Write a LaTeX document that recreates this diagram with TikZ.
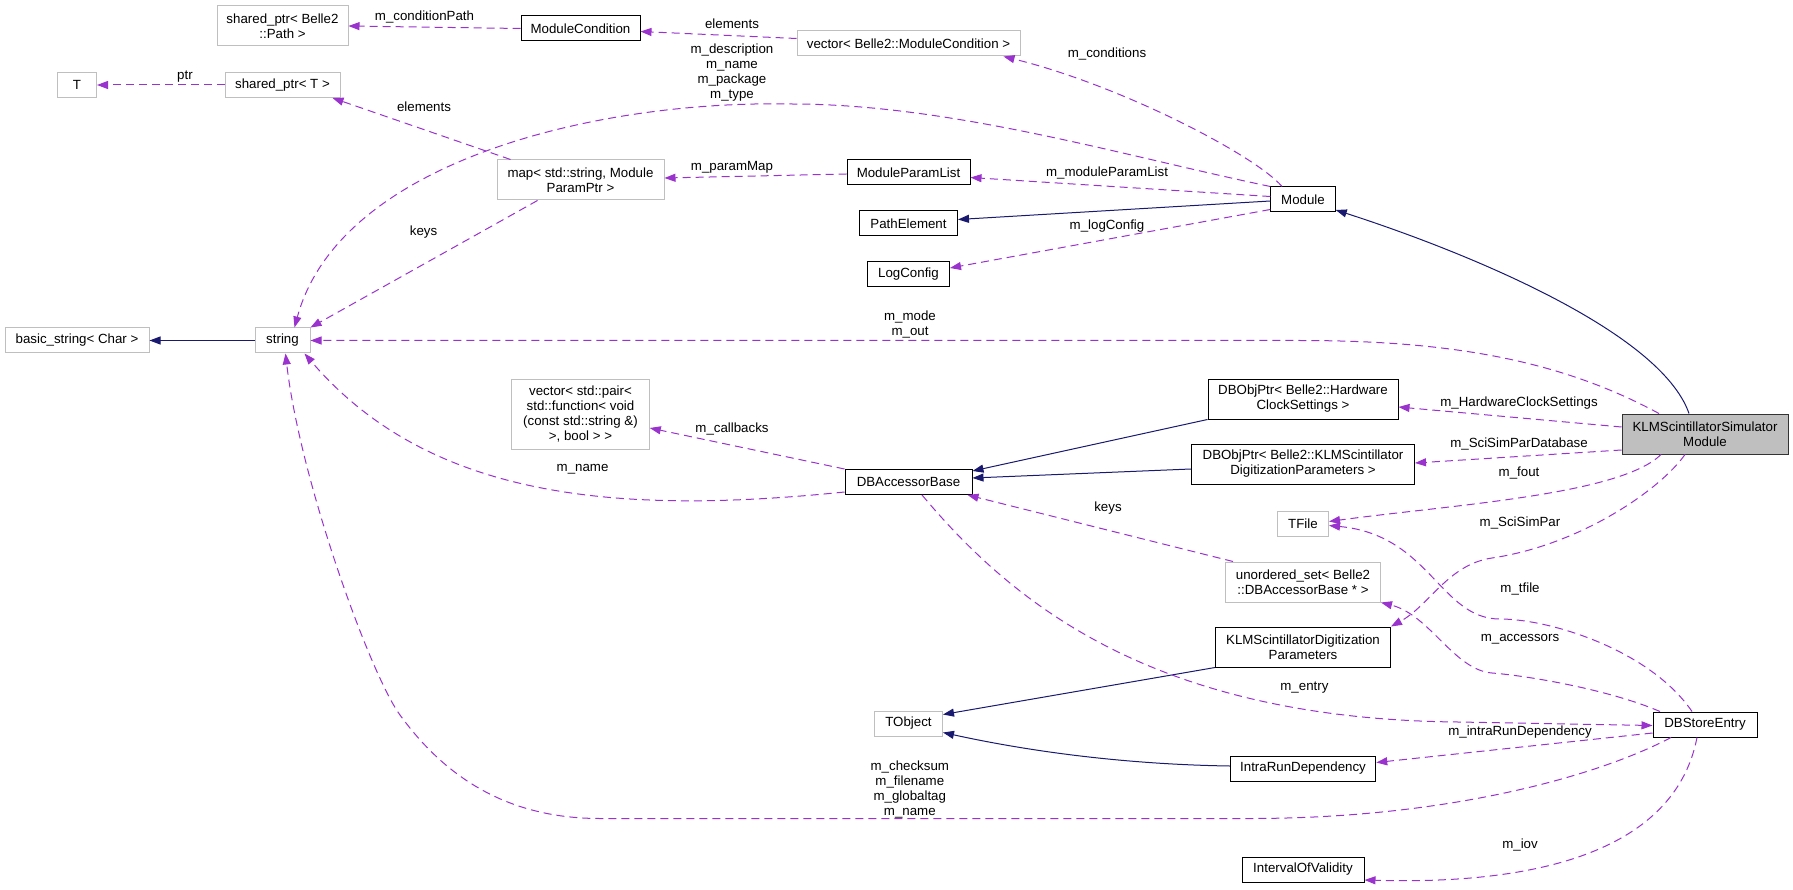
\documentclass[tikz,border=0pt]{standalone}
\usepackage{fontspec}
\setmainfont{Liberation Sans}
\usetikzlibrary{arrows.meta}
\definecolor{memcol}{HTML}{9A32CD}
\definecolor{basecol}{HTML}{191970}
\definecolor{grey75}{HTML}{BFBFBF}

\begin{document}
\begin{tikzpicture}[x=1pt, y=-1pt,
  every node/.style={font=\fontsize{13.3}{15}\selectfont, inner sep=0pt, align=center},
  cls/.style={draw=black, line width=1pt, minimum height=25pt},
  ext/.style={draw=grey75, line width=1pt, minimum height=25pt},
  rootcls/.style={draw=black!80, fill=grey75, line width=1pt, minimum height=40pt},
  memberedge/.style={draw=memcol, line width=1pt, dash pattern=on 8pt off 5pt, -{Triangle[length=11pt,width=8pt]}},
  baseedge/.style={draw=basecol, line width=1pt, -{Triangle[length=11pt,width=8pt]}}
]
\useasboundingbox (0,0) rectangle (1793,890);

\node[ext, minimum width=131pt, minimum height=40pt] (pathsp) at (282.5,26) {shared\_ptr< Belle2\\::Path >};
\node[ext, minimum width=39pt] (tnode) at (77,85) {T};
\node[ext, minimum width=115pt] (sharedt) at (282.5,85) {shared\_ptr< T >};
\node[cls, minimum width=119pt] (cond) at (580.5,28.5) {ModuleCondition};
\node[ext, minimum width=167pt, minimum height=40pt] (parammap) at (580.5,180) {map< std::string, Module\\ParamPtr >};
\node[ext, minimum width=223pt] (condvec) at (908.5,43.5) {vector< Belle2::ModuleCondition >};
\node[cls, minimum width=123pt] (paramlist) at (908.5,172.5) {ModuleParamList};
\node[cls, minimum width=98pt] (pathelem) at (908.5,223.5) {PathElement};
\node[cls, minimum width=82pt] (logcfg) at (908.5,274) {LogConfig};
\node[cls, minimum width=64.5pt] (module) at (1303,199.5) {Module};
\node[ext, minimum width=144pt] (basicstr) at (77,340.5) {basic\_string< Char >};
\node[ext, minimum width=55pt] (string) at (282.5,340.5) {string};
\node[ext, minimum width=137.5pt, minimum height=70pt] (callbacks) at (580.5,414) {vector< std::pair<\\std::function< void\\(const std::string \&)\\>, bool > >};
\node[cls, minimum width=190pt, minimum height=40pt] (hwclock) at (1303,399) {DBObjPtr< Belle2::Hardware\\ClockSettings >};
\node[rootcls, minimum width=166pt] (klmsim) at (1705,434) {KLMScintillatorSimulator\\Module};
\node[cls, minimum width=223pt, minimum height=40pt] (digiptr) at (1303,464) {DBObjPtr< Belle2::KLMScintillator\\DigitizationParameters >};
\node[cls, minimum width=127pt] (accessor) at (908.5,482) {DBAccessorBase};
\node[ext, minimum width=51pt] (tfile) at (1303,523.5) {TFile};
\node[ext, minimum width=155pt, minimum height=40pt] (uset) at (1303,582) {unordered\_set< Belle2\\::DBAccessorBase * >};
\node[cls, minimum width=175pt, minimum height=40pt] (klmdigi) at (1303,647) {KLMScintillatorDigitization\\Parameters};
\node[ext, minimum width=68pt] (tobject) at (908.5,723.5) {TObject};
\node[cls, minimum width=145.5pt] (intrarun) at (1303,768.5) {IntraRunDependency};
\node[cls, minimum width=104pt] (storeentry) at (1705,724.5) {DBStoreEntry};
\node[cls, minimum width=122pt] (iov) at (1303,869.5) {IntervalOfValidity};

\draw[memberedge] (cond.west) -- (pathsp.east);
\draw[memberedge] ([yshift=5pt]condvec.west) -- ([yshift=-3pt]cond.east);
\draw[memberedge] ([xshift=-21pt]module.north) .. controls (1255,155) and (1120,85) .. ([xshift=95pt]condvec.south);
\draw[memberedge] (sharedt.west) -- (tnode.east);
\draw[memberedge] ([xshift=14pt]parammap.north west) -- ([xshift=-8pt]sharedt.south east);
\draw[memberedge] (module.north west) .. controls (1120,155) and (950,104) .. (791,104) .. controls (600,100) and (340,160) .. ([xshift=12pt]string.north);
\draw[memberedge] ([xshift=-43pt]parammap.south) -- (string.north east);
\draw[memberedge] ([yshift=-1.5pt]paramlist.west) -- ([yshift=2pt]parammap.east);
\draw[memberedge] ([yshift=3pt]module.west) -- ([yshift=-5pt]paramlist.east);
\draw[baseedge] ([yshift=-1.5pt]module.west) -- ([yshift=4pt]pathelem.east);
\draw[memberedge] ([yshift=-10pt]module.west) -- ([yshift=6pt]logcfg.east);
\draw[baseedge] ([xshift=-16pt]klmsim.north) .. controls (1660,330) and (1460,250) .. ([yshift=2.5pt]module.south east);
\draw[baseedge] (string.west) -- (basicstr.east);
\draw[memberedge] ([xshift=-46pt]klmsim.north) .. controls (1560,360) and (1450,340.5) .. (1300,340.5) -- (string.east);
\draw[memberedge] (accessor.north west) -- ([yshift=-14pt]callbacks.east);
\draw[memberedge] ([yshift=-10pt]accessor.west) .. controls (620,515) and (430,500) .. ([xshift=-6pt]string.south east);
\draw[baseedge] (hwclock.south west) -- ([yshift=11pt]accessor.east);
\draw[baseedge] ([yshift=-5pt]digiptr.west) -- ([yshift=4pt]accessor.east);
\draw[memberedge] ([yshift=7pt]klmsim.west) -- ([yshift=-8pt]hwclock.east);
\draw[memberedge] ([yshift=-16pt]klmsim.west) -- ([yshift=1pt]digiptr.east);
\draw[memberedge] ([xshift=-44pt]klmsim.south) .. controls (1620,495) and (1450,505) .. ([yshift=2pt]tfile.east);
\draw[memberedge] ([xshift=-20pt]klmsim.south) .. controls (1660,490) and (1580,545) .. (1492,558) .. controls (1448,564.5) and (1430,605) .. (klmdigi.north east);
\draw[memberedge] ([xshift=8pt]uset.north west) -- ([xshift=-5pt]accessor.south east);
\draw[memberedge] ([xshift=-13pt]storeentry.north) .. controls (1650,650) and (1550,619) .. (1500,619) .. controls (1440,619) and (1430,535) .. ([yshift=-2pt]tfile.east);
\draw[memberedge] ([xshift=-45pt]storeentry.north) .. controls (1610,690) and (1530,676) .. (1492,673) .. controls (1454,670) and (1430,615) .. (uset.south east);
\draw[baseedge] (klmdigi.south west) -- ([yshift=9pt]tobject.east);
\draw[memberedge] ([xshift=13.5pt]accessor.south) .. controls (1010,600) and (1150,719) .. (1458,722) -- ([yshift=-1pt]storeentry.west);
\draw[baseedge] ([yshift=2.5pt]intrarun.west) .. controls (1100,764) and (1000,745) .. ([yshift=-9pt]tobject.east);
\draw[memberedge] ([yshift=-8.5pt]storeentry.west) -- ([yshift=6pt]intrarun.east);
\draw[memberedge] ([xshift=-34pt]storeentry.south) .. controls (1600,775) and (1450,818.5) .. (1250,818.5) -- (600,818.5) .. controls (500,818.5) and (440,770) .. (400,715) .. controls (370,674) and (300,480) .. ([xshift=3pt]string.south);
\draw[memberedge] ([xshift=-8pt]storeentry.south) .. controls (1675,850) and (1540,885) .. ([yshift=-10.5pt]iov.east);

\node (lcondpath) at (424.5,17) {m\_conditionPath};
\node (lcondelem) at (732,24) {elements};
\node (lconds) at (1107,54) {m\_conditions};
\node (lptr) at (185,77) {ptr};
\node (lspelem) at (424,107) {elements};
\node (lmodstr) at (732,73) {m\_description\\m\_name\\m\_package\\m\_type};
\node (lkeys) at (423.6,232) {keys};
\node (lparammap) at (732,167) {m\_paramMap};
\node (lparamlist) at (1107,173) {m\_moduleParamList};
\node (llogcfg) at (1107,225.7) {m\_logConfig};
\node (lmode) at (910,325) {m\_mode\\m\_out};
\node (lcallbacks) at (732,428.7) {m\_callbacks};
\node (laccname) at (582.6,469) {m\_name};
\node (lhwclock) at (1519,402.7) {m\_HardwareClockSettings};
\node (lsimpardb) at (1519,444.3) {m\_SciSimParDatabase};
\node (lfout) at (1519,473) {m\_fout};
\node (lsimpar) at (1520,522.7) {m\_SciSimPar};
\node (lusetkeys) at (1108,508) {keys};
\node (ltfile) at (1520,589.3) {m\_tfile};
\node (laccessors) at (1520,639) {m\_accessors};
\node (lentry) at (1304.4,687.3) {m\_entry};
\node (lintrarun) at (1520,732.3) {m\_intraRunDependency};
\node (lstorestr) at (909.8,789) {m\_checksum\\m\_filename\\m\_globaltag\\m\_name};
\node (liov) at (1520,845) {m\_iov};
\end{tikzpicture}
\end{document}
